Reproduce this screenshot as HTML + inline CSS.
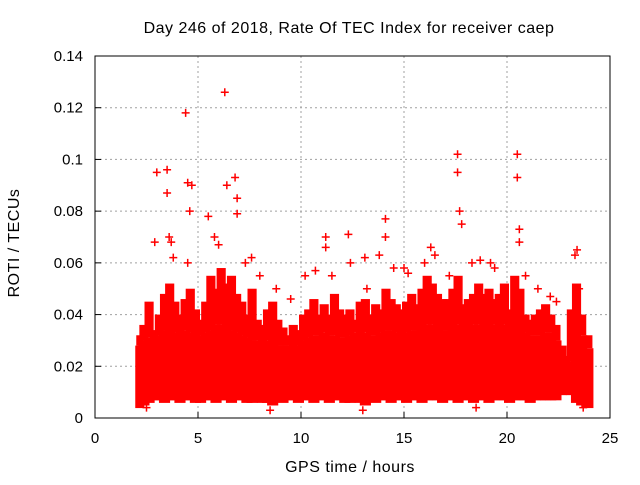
<!DOCTYPE html>
<html><head><meta charset="utf-8"><style>
body{margin:0;background:#fff}
svg text{font-family:"Liberation Sans",sans-serif;font-size:15px;fill:#000}
.ttl{font-size:16px;letter-spacing:0.5px}
</style></head><body>
<svg id="chart" width="640" height="480" xmlns="http://www.w3.org/2000/svg">
<rect width="640" height="480" fill="#fff"/>
<text class="ttl" x="349" y="33" text-anchor="middle">Day 246 of 2018, Rate Of TEC Index for receiver caep</text>
<text class="ttl" x="19" y="243" text-anchor="middle" transform="rotate(-90 19 243)">ROTI / TECUs</text>
<text class="ttl" x="350" y="472" text-anchor="middle">GPS time / hours</text>
<g id="grid"></g><g id="band"></g><g id="marks"></g><g id="axes"></g>
</svg>
<script>
const xTicks=[0,5,10,15,20,25];
const yTicks=[0,0.02,0.04,0.06,0.08,0.1,0.12,0.14];
const yTickLabels=["0","0.02","0.04","0.06","0.08","0.1","0.12","0.14"];
const binStart=[2.1,2.25,2.5,2.75,3,3.25,3.5,3.75,4,4.25,4.5,4.75,5,5.25,5.5,5.75,6,6.25,6.5,6.75,7,7.25,7.5,7.75,8,8.25,8.5,8.75,9,9.25,9.5,9.75,10,10.25,10.5,10.75,11,11.25,11.5,11.75,12,12.25,12.5,12.75,13,13.25,13.5,13.75,14,14.25,14.5,14.75,15,15.25,15.5,15.75,16,16.25,16.5,16.75,17,17.25,17.5,17.75,18,18.25,18.5,18.75,19,19.25,19.5,19.75,20,20.25,20.5,20.75,21,21.25,21.5,21.75,22,22.25,22.5,22.75,23,23.25,23.5,23.75];
const bandLow=[0.005,0.006,0.007,0.008,0.008,0.007,0.008,0.008,0.007,0.008,0.008,0.007,0.007,0.008,0.008,0.007,0.008,0.008,0.007,0.008,0.008,0.007,0.007,0.008,0.007,0.007,0.006,0.008,0.007,0.008,0.008,0.007,0.008,0.008,0.007,0.008,0.008,0.007,0.008,0.008,0.007,0.007,0.008,0.007,0.006,0.008,0.007,0.008,0.008,0.007,0.008,0.008,0.007,0.008,0.008,0.007,0.008,0.008,0.008,0.007,0.008,0.008,0.007,0.008,0.008,0.007,0.008,0.008,0.007,0.008,0.008,0.008,0.007,0.008,0.008,0.008,0.007,0.008,0.008,0.008,0.008,0.008,0.010,0.012,0.010,0.007,0.006,0.005];
const denseHigh=[0.028,0.030,0.031,0.030,0.032,0.034,0.035,0.033,0.032,0.034,0.033,0.031,0.032,0.033,0.034,0.036,0.036,0.035,0.034,0.033,0.032,0.031,0.030,0.030,0.029,0.030,0.029,0.028,0.028,0.028,0.027,0.028,0.030,0.031,0.032,0.032,0.033,0.032,0.032,0.031,0.031,0.032,0.033,0.032,0.033,0.032,0.032,0.033,0.034,0.034,0.033,0.032,0.033,0.034,0.034,0.035,0.036,0.036,0.035,0.034,0.034,0.035,0.036,0.035,0.035,0.036,0.036,0.035,0.035,0.036,0.035,0.036,0.034,0.035,0.035,0.033,0.032,0.032,0.032,0.033,0.033,0.030,0.028,0.020,0.022,0.030,0.032,0.027];
const spikeHigh=[0.032,0.036,0.045,0.034,0.040,0.048,0.052,0.045,0.040,0.046,0.050,0.042,0.038,0.045,0.055,0.050,0.058,0.052,0.055,0.048,0.045,0.040,0.050,0.038,0.036,0.042,0.045,0.038,0.035,0.032,0.036,0.034,0.040,0.042,0.046,0.040,0.044,0.040,0.048,0.042,0.040,0.042,0.038,0.045,0.046,0.040,0.044,0.042,0.050,0.046,0.044,0.042,0.045,0.048,0.044,0.050,0.055,0.052,0.048,0.046,0.046,0.050,0.055,0.044,0.046,0.048,0.052,0.048,0.050,0.046,0.048,0.052,0.042,0.055,0.050,0.040,0.038,0.040,0.042,0.044,0.040,0.036,0.025,0.024,0.042,0.052,0.040,0.032];
const outT=[2.9,3.0,3.5,3.5,3.6,3.7,4.4,4.5,4.6,4.5,5.5,5.8,6.0,6.3,6.4,6.8,6.9,7.3,7.6,8.0,8.8,9.5,10.2,10.7,11.2,11.2,11.5,12.3,12.4,13.1,13.2,13.8,14.1,14.1,14.5,15.0,15.2,16.0,16.3,16.5,17.2,17.6,17.6,17.7,17.8,18.3,18.7,19.2,19.4,20.5,20.5,20.6,20.6,20.9,21.5,22.1,22.4,23.3,23.4,23.5,2.5,8.5,13.0,18.5,23.7,4.7,6.9,3.8];
const outV=[0.068,0.095,0.096,0.087,0.07,0.068,0.118,0.091,0.08,0.06,0.078,0.07,0.067,0.126,0.09,0.093,0.079,0.06,0.062,0.055,0.05,0.046,0.055,0.057,0.07,0.066,0.055,0.071,0.06,0.062,0.05,0.063,0.077,0.07,0.058,0.058,0.056,0.06,0.066,0.063,0.055,0.102,0.095,0.08,0.075,0.06,0.061,0.06,0.058,0.102,0.093,0.073,0.068,0.055,0.05,0.047,0.045,0.063,0.065,0.05,0.004,0.003,0.003,0.004,0.004,0.09,0.085,0.062];
const X0=95,X1=610,Y0=418,Y1=56;
const sx=v=>X0+(v-0)/25*(X1-X0);
const sy=v=>Y0-(v/0.14)*(Y0-Y1);
const NS="http://www.w3.org/2000/svg";
function mk(tag,parent,attrs){const e=document.createElementNS(NS,tag);for(const k in attrs)e.setAttribute(k,attrs[k]);parent.appendChild(e);return e;}
const grid=document.getElementById('grid'),axes=document.getElementById('axes'),band=document.getElementById('band'),marks=document.getElementById('marks');
xTicks.forEach(t=>{
  if(t>0&&t<25){const g=mk('line',grid,{x1:sx(t),x2:sx(t),y1:Y0,y2:Y1,stroke:'#a0a0a0','stroke-dasharray':'2,3'});
  
  }
  const tk=mk('line',axes,{x1:sx(t),x2:sx(t),y1:Y0,y2:Y0-6,stroke:'#000'});
  
  
  const tx=mk('text',axes,{x:sx(t),y:443,'text-anchor':'middle'});tx.textContent=t;
  
  
});
yTicks.forEach((t,i)=>{
  if(t>0&&t<0.14){const g=mk('line',grid,{x1:X0,x2:X1,y1:sy(t),y2:sy(t),stroke:'#a0a0a0','stroke-dasharray':'2,3'});
  
  }
  const tk=mk('line',axes,{x1:X0,x2:X0+6,y1:sy(t),y2:sy(t),stroke:'#000'});
  
  
  const tx=mk('text',axes,{x:83,y:sy(t)+5,'text-anchor':'end'});tx.textContent=yTickLabels[i];
  
  
});
const frame=mk('rect',axes,{x:X0,y:Y1,width:X1-X0,height:Y0-Y1,fill:'none',stroke:'#000'});


binStart.forEach((h,i)=>{
  const h2=i+1<binStart.length?binStart[i+1]:24.05;
  const xa=sx(h)-3,xb=sx(h2)+3;
  const sp=mk('rect',band,{x:xa+1,y:sy(spikeHigh[i]),width:xb-xa-2,height:sy(denseHigh[i])-sy(spikeHigh[i]),fill:'#ff0000'});
  
  
  const r=mk('rect',band,{x:xa,y:sy(denseHigh[i]),width:xb-xa,height:sy(bandLow[i])-sy(denseHigh[i])+3,fill:'#ff0000'});
  
  
});
function plus(t,v){const x=sx(t),y=sy(v);
  const p=mk('path',marks,{d:`M${x-4},${y}H${x+4}M${x},${y-4}V${y+4}`,stroke:'#ff0000','stroke-width':1.5});
  
  }
outT.forEach((t,i)=>plus(t,outV[i]));
</script>
</body></html>
